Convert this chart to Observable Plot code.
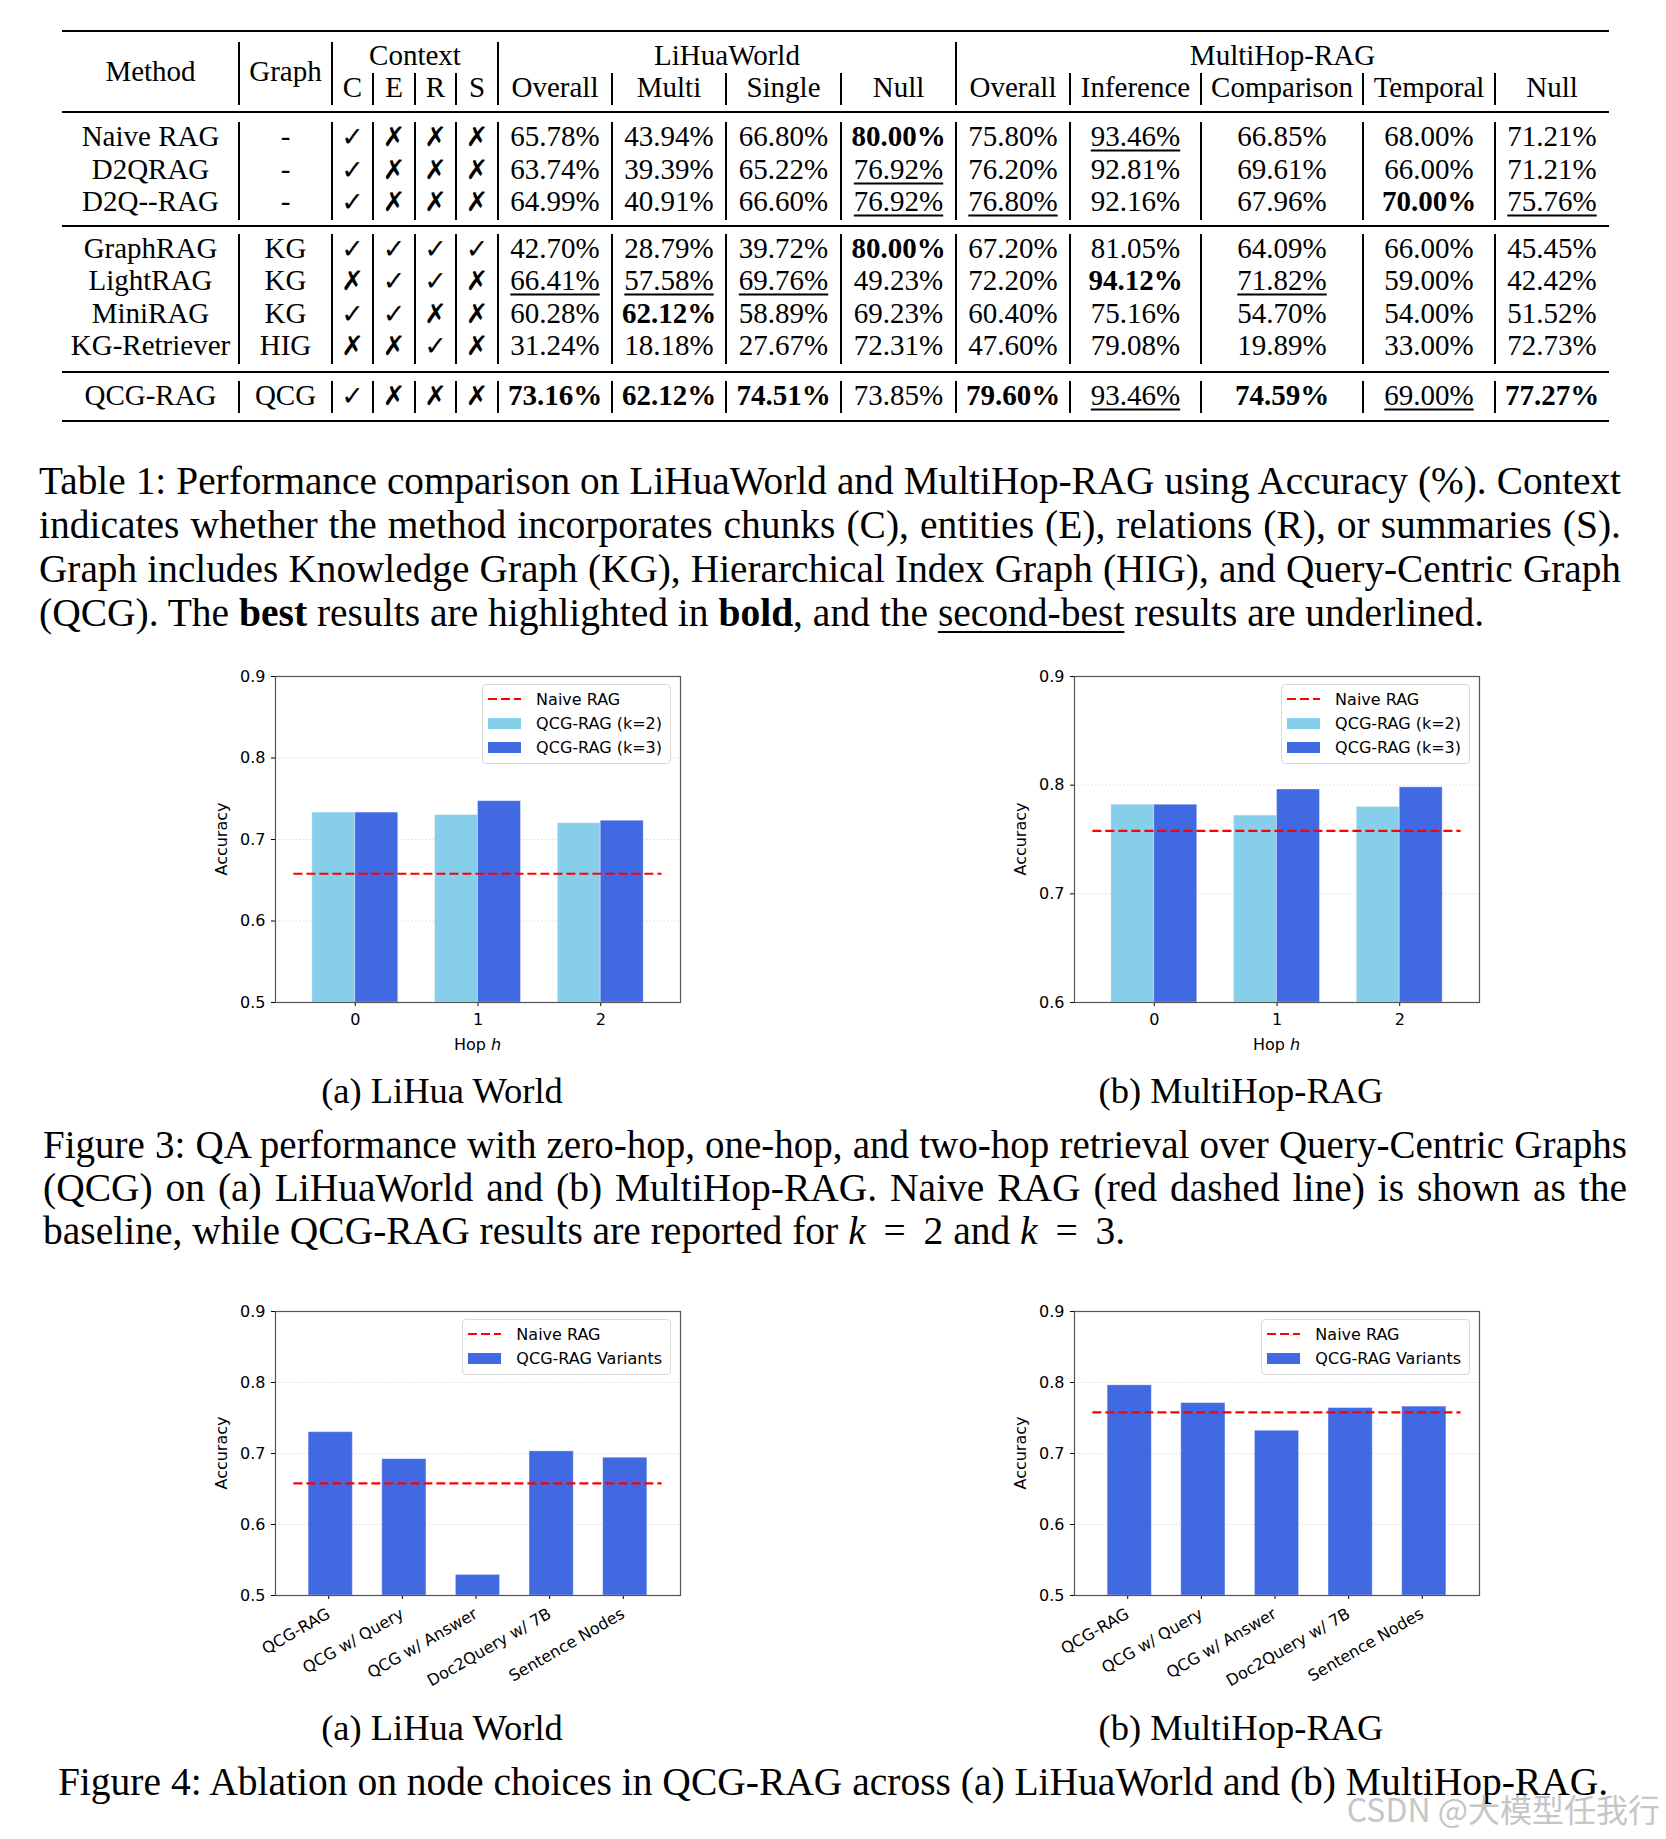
<!DOCTYPE html>
<html><head><meta charset="utf-8">
<script src="https://cdn.jsdelivr.net/npm/d3@7"></script>
<script src="https://cdn.jsdelivr.net/npm/@observablehq/plot@0.6"></script>
<style>
body{margin:0;background:#fff;}
#page{position:relative;width:1666px;height:1839px;overflow:hidden;background:#fff;font-family:"Liberation Serif","Times New Roman",serif;color:#000;}
.cell{position:absolute;transform:translate(-50%,-50%);white-space:nowrap;font-size:29px;line-height:1;}
.hr{position:absolute;background:#000;}
.vr{position:absolute;background:#000;width:1.2px;}
.capline{position:absolute;font-size:39.5px;white-space:nowrap;}
.jl{text-align:justify;text-align-last:justify;white-space:normal;}
.leg{position:absolute;background:rgba(255,255,255,0.85);border:1px solid #d9d9d9;border-radius:4px;font-family:"DejaVu Sans";font-size:16px;color:#000;padding:2px 8px 4px 5px;}
.legrow{display:flex;align-items:center;height:24px;white-space:nowrap;}
.sample{width:33px;margin-right:15px;display:flex;align-items:center;}
.axlab{position:absolute;font-family:"DejaVu Sans";font-size:16px;white-space:nowrap;line-height:1;}
svg.chart{position:absolute;overflow:visible;}
</style></head>
<body><div id="page"></div>
<script>
// ================= TABLE DATA =================
const methods = ["Naive RAG","D2QRAG","D2Q--RAG","GraphRAG","LightRAG","MiniRAG","KG-Retriever","QCG-RAG"];
const graphTypes = ["-","-","-","KG","KG","KG","HIG","QCG"];
const ctxC = [1,1,1,1,0,1,0,1];
const ctxE = [0,0,0,1,1,1,0,0];
const ctxR = [0,0,0,1,1,0,1,0];
const ctxS = [0,0,0,1,0,0,0,0];
const lhOverall = [65.78,63.74,64.99,42.70,66.41,60.28,31.24,73.16];
const lhMulti   = [43.94,39.39,40.91,28.79,57.58,62.12,18.18,62.12];
const lhSingle  = [66.80,65.22,66.60,39.72,69.76,58.89,27.67,74.51];
const lhNull    = [80.00,76.92,76.92,80.00,49.23,69.23,72.31,73.85];
const mhOverall = [75.80,76.20,76.80,67.20,72.20,60.40,47.60,79.60];
const mhInference  = [93.46,92.81,92.16,81.05,94.12,75.16,79.08,93.46];
const mhComparison = [66.85,69.61,67.96,64.09,71.82,54.70,19.89,74.59];
const mhTemporal   = [68.00,66.00,70.00,66.00,59.00,54.00,33.00,69.00];
const mhNull       = [71.21,71.21,75.76,45.45,42.42,51.52,72.73,77.27];
const headMethod = "Method", headGraph = "Graph";
const contextLabels = ["C","E","R","S"];
const lihuaLabels = ["Overall","Multi","Single","Null"];
const mhLabels = ["Overall","Inference","Comparison","Temporal","Null"];
const groupLabels = ["Context","LiHuaWorld","MultiHop-RAG"];
const sectionSizes = [3,4,1];

// ================= CHART DATA =================
const hops = [0, 1, 2];
const hopSeriesNames = ["QCG-RAG (k=2)", "QCG-RAG (k=3)"];
const lihuaK2 = [0.733, 0.730, 0.720];
const lihuaK3 = [0.733, 0.747, 0.723];
const lihuaNaive = 0.658;
const mhK2 = [0.782, 0.772, 0.780];
const mhK3 = [0.782, 0.796, 0.798];
const mhNaive = 0.758;
const variants = ["QCG-RAG","QCG w/ Query","QCG w/ Answer","Doc2Query w/ 7B","Sentence Nodes"];
const variantSeriesName = "QCG-RAG Variants";
const lihuaVariants = [0.730, 0.692, 0.529, 0.703, 0.694];
const mhVariants = [0.796, 0.771, 0.732, 0.764, 0.766];
const baselineName = "Naive RAG";
const ticksA = [0.5,0.6,0.7,0.8,0.9];
const ticksB = [0.6,0.7,0.8,0.9];

// ================= LAYOUT =================
const page = document.getElementById("page");
const colWidths = [177,93,41,42,41,42,114,114,115,115,114,131,162,132,114];
const tableLeft = 62;
const bounds = [tableLeft];
colWidths.forEach(w => bounds.push(bounds[bounds.length-1] + w));
const tableRight = bounds[bounds.length-1];
const colCenter = i => (bounds[i] + bounds[i+1]) / 2;

function div(cls, css, html) {
  const d = document.createElement("div");
  d.className = cls;
  d.style.cssText = css;
  if (html !== undefined) d.innerHTML = html;
  page.appendChild(d);
  return d;
}
function cell(html, x, y, extra = "") {
  return div("cell", `left:${x}px;top:${y}px;${extra}`, html);
}
function hline(y, t) { div("hr", `left:${tableLeft}px;width:${tableRight-tableLeft}px;top:${y - t/2}px;height:${t}px`); }
function vline(x, y1, y2) { div("vr", `left:${x - 0.6}px;top:${y1}px;height:${y2-y1}px`); }

// rules
hline(31, 2.6); hline(112, 1.5); hline(226, 1.5); hline(372, 1.5); hline(421, 2.6);

// header
const majorB = [1,2,6,10];
const minorB = [3,4,5,7,8,9,11,12,13,14];
majorB.forEach(b => vline(bounds[b], 42, 105));
minorB.forEach(b => vline(bounds[b], 73, 105));
cell(headMethod, colCenter(0), 71);
cell(headGraph, colCenter(1), 71);
const groupSpans = [[2,5],[6,9],[10,14]];
groupLabels.forEach((g, k) => cell(g, (bounds[groupSpans[k][0]] + bounds[groupSpans[k][1]+1]) / 2, 55));
[...contextLabels, ...lihuaLabels, ...mhLabels].forEach((s, k) => cell(s, colCenter(k + 2), 87));

// body
const ctxCols = [ctxC, ctxE, ctxR, ctxS];
const numCols = [lhOverall, lhMulti, lhSingle, lhNull, mhOverall, mhInference, mhComparison, mhTemporal, mhNull];
const ranks = numCols.map(col => {
  const best = d3.max(col);
  const second = d3.max(col.filter(v => v < best));
  return {best, second};
});
const secTops = [120, 231.5, 378.5];
const rowH = 32.5;
let r = 0;
sectionSizes.forEach((n, s) => {
  const top = secTops[s];
  [...majorB, ...minorB].forEach(b => vline(bounds[b], top + 2, top + n * rowH + 2));
  for (let k = 0; k < n; k++, r++) {
    const y = top + rowH * (k + 0.5);
    cell(methods[r], colCenter(0), y);
    cell(graphTypes[r], colCenter(1), y);
    ctxCols.forEach((col, c) => cell(col[r] ? "✓" : "✗", colCenter(c + 2), y, "font-family:'DejaVu Sans';font-size:27px;font-weight:bold;"));
    numCols.forEach((col, c) => {
      const v = col[r];
      let style = "";
      if (v === ranks[c].best) style = "font-weight:bold;";
      else if (v === ranks[c].second) style = "text-decoration:underline;text-decoration-thickness:1.5px;text-underline-offset:4px;";
      cell(v.toFixed(2) + "%", colCenter(c + 6), y, style);
    });
  }
});

// ================= CAPTIONS =================
function capLines(lines, left, width, top, lh) {
  lines.forEach((t, i) => {
    const last = i === lines.length - 1;
    const d = div("capline" + (last ? "" : " jl"), `left:${left}px;top:${top + i*lh}px;width:${width}px;line-height:${lh}px;`, t);
    // guard: never let a justified line wrap
    let fs = 39.5;
    while (!last && d.getBoundingClientRect().height > lh * 1.5 && fs > 30) { fs -= 0.25; d.style.fontSize = fs + "px"; }
  });
}
capLines([
  "Table 1: Performance comparison on LiHuaWorld and MultiHop-RAG using Accuracy (%). Context",
  "indicates whether the method incorporates chunks (C), entities (E), relations (R), or summaries (S).",
  "Graph includes Knowledge Graph (KG), Hierarchical Index Graph (HIG), and Query-Centric Graph",
  "(QCG). The <b>best</b> results are highlighted in <b>bold</b>, and the <u style='text-decoration-thickness:1.5px;text-underline-offset:5px'>second-best</u> results are underlined."
], 39, 1582, 459, 44);
capLines([
  "Figure 3: QA performance with zero-hop, one-hop, and two-hop retrieval over Query-Centric Graphs",
  "(QCG) on (a) LiHuaWorld and (b) MultiHop-RAG. Naive RAG (red dashed line) is shown as the",
  "baseline, while QCG-RAG results are reported for <i>k</i>&nbsp;&thinsp;=&nbsp;&thinsp;2 and <i>k</i>&nbsp;&thinsp;=&nbsp;&thinsp;3."
], 43, 1584, 1123, 43.5);
div("capline", "left:0;top:1760px;width:1666px;line-height:44px;text-align:center;", "Figure 4: Ablation on node choices in QCG-RAG across (a) LiHuaWorld and (b) MultiHop-RAG.");
[[442,1091,"(a) LiHua World"],[1241,1091,"(b) MultiHop-RAG"],[442,1728,"(a) LiHua World"],[1241,1728,"(b) MultiHop-RAG"]]
  .forEach(([x,y,t]) => cell(t, x, y, "font-size:36.5px;"));
div("cell", "left:1660px;top:1808px;transform:translate(-100%,-50%);font-family:'Noto Sans CJK SC';font-size:32px;color:#c6c6c6;", "CSDN @大模型任我行");

// ================= CHARTS =================
function barChart({left, top, categories, series, baseline, yDomain, yTicks, rotate, marginTop, marginBottom, xLabel}) {
  const n = categories.length;
  const groupWidth = series.length === 2 ? 0.7 : 0.6;
  const barW = groupWidth / series.length;
  const rows = [];
  series.forEach((s, j) => s.values.forEach((v, i) => rows.push({i, j, v, name: s.name})));
  const lo = -0.5, hi = n - 0.5, pad = 0.05 * (hi - lo);
  const W = 520, H = 420, mL = 95, mR = 20;
  const svg = Plot.plot({
    width: W, height: H,
    marginLeft: mL, marginRight: mR, marginTop, marginBottom,
    style: {fontFamily: "DejaVu Sans", fontSize: "16px", color: "#000", background: "transparent", overflow: "visible"},
    x: {type: "linear", domain: [lo - pad, hi + pad]},
    y: {domain: yDomain},
    color: {domain: series.map(s => s.name), range: series.map(s => s.color)},
    marks: [
      Plot.gridY(yTicks, {stroke: "#b8b8b8", strokeOpacity: 0.6, strokeDasharray: "1.5,2", strokeWidth: 0.8}),
      Plot.rect(rows, {
        x1: d => d.i - groupWidth / 2 + d.j * barW,
        x2: d => d.i - groupWidth / 2 + (d.j + 1) * barW,
        y1: yDomain[0], y2: "v", fill: "name",
        stroke: "#fff", strokeOpacity: 0.35, strokeWidth: 1
      }),
      Plot.ruleY([baseline], {x1: lo, x2: hi, stroke: "#ff0000", strokeWidth: 2.2, strokeDasharray: "9,4"}),
      Plot.axisY({ticks: yTicks, tickFormat: d => d.toFixed(1), tickSize: 4, tickPadding: 6, label: null}),
      Plot.axisX({ticks: d3.range(n), tickFormat: i => categories[i], tickSize: 4, tickPadding: rotate ? 13 : 7, tickRotate: rotate || 0, dx: rotate ? -2 : 0, label: null}),
      Plot.frame({stroke: "#555", strokeWidth: 1.2})
    ]
  });
  svg.classList.add("chart");
  svg.style.left = left + "px";
  svg.style.top = top + "px";
  page.appendChild(svg);

  const fL = left + mL, fR = left + W - mR, fT = top + marginTop, fB = top + H - marginBottom;
  div("axlab", `left:${fL - 53}px;top:${(fT + fB) / 2}px;transform:translate(-50%,-50%) rotate(-90deg);`, "Accuracy");
  if (xLabel) div("axlab", `left:${(fL + fR) / 2}px;top:${fB + 43}px;transform:translate(-50%,-50%);`, xLabel);
  const leg = div("leg", `right:${1666 - (fR - 9)}px;top:${fT + 8}px;`);
  const entries = [{dash: true, name: baselineName}, ...series.map(s => ({color: s.color, name: s.name}))];
  leg.innerHTML = entries.map(e => `<div class="legrow"><div class="sample">${
    e.dash ? `<svg width="33" height="6"><line x1="0" x2="33" y1="3" y2="3" stroke="#ff0000" stroke-width="2.2" stroke-dasharray="9,4"/></svg>`
           : `<div style="width:33px;height:11px;background:${e.color}"></div>`
  }</div><span>${e.name}</span></div>`).join("");
}

const skyblue = "#87CEEB", royalblue = "#4169E1";
barChart({left: 180, top: 650, categories: hops.map(String),
  series: [{name: hopSeriesNames[0], values: lihuaK2, color: skyblue}, {name: hopSeriesNames[1], values: lihuaK3, color: royalblue}],
  baseline: lihuaNaive, yDomain: [0.5, 0.9], yTicks: ticksA, marginTop: 26, marginBottom: 68, xLabel: "Hop <i>h</i>"});
barChart({left: 979, top: 650, categories: hops.map(String),
  series: [{name: hopSeriesNames[0], values: mhK2, color: skyblue}, {name: hopSeriesNames[1], values: mhK3, color: royalblue}],
  baseline: mhNaive, yDomain: [0.6, 0.9], yTicks: ticksB, marginTop: 26, marginBottom: 68, xLabel: "Hop <i>h</i>"});
barChart({left: 180, top: 1290, categories: variants,
  series: [{name: variantSeriesName, values: lihuaVariants, color: royalblue}],
  baseline: lihuaNaive, yDomain: [0.5, 0.9], yTicks: ticksA, rotate: -30, marginTop: 21, marginBottom: 115});
barChart({left: 979, top: 1290, categories: variants,
  series: [{name: variantSeriesName, values: mhVariants, color: royalblue}],
  baseline: mhNaive, yDomain: [0.5, 0.9], yTicks: ticksA, rotate: -30, marginTop: 21, marginBottom: 115});
</script>
</body></html>
